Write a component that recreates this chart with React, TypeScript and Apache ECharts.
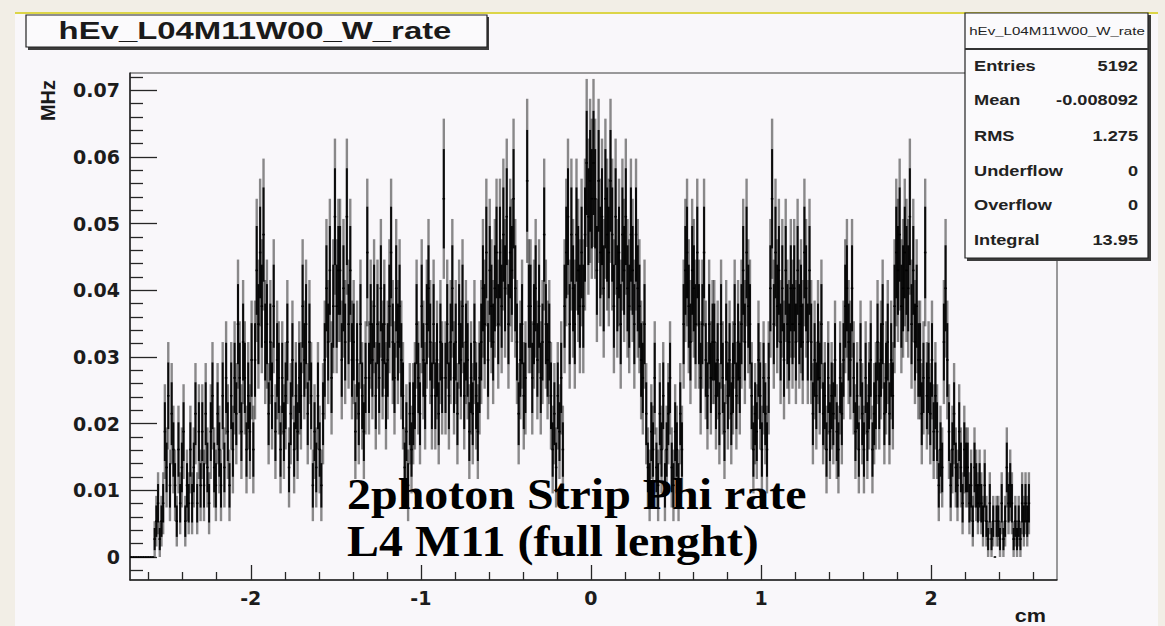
import React, { useEffect, useRef } from "react";
import * as echarts from "echarts";

// ---------- data ----------
const HIST_NAME = "hEv_L04M11W00_W_rate";
const X_MIN = -2.71;
const X_MAX = 2.74;
const Y_MIN = -0.00345;
const Y_MAX = 0.0726;
const BIN_START = -2.71; // cm, low edge of first bin
const BIN_WIDTH = 0.01; // cm
const ENTRIES = 5192;
const INTEGRAL = 13.95;
const WEIGHT = INTEGRAL / ENTRIES; // MHz per entry

const X_TICKS = [-2, -1, 0, 1, 2];
const X_MINOR_TICKS = [
  -2.6, -2.4, -2.2, -1.8, -1.6, -1.4, -1.2, -0.8, -0.6, -0.4, -0.2,
  0.2, 0.4, 0.6, 0.8, 1.2, 1.4, 1.6, 1.8, 2.2, 2.4, 2.6,
];
const Y_TICKS = [0, 0.01, 0.02, 0.03, 0.04, 0.05, 0.06, 0.07];
const Y_MINOR_TICKS = [
  -0.002, 0.002, 0.004, 0.006, 0.008, 0.012, 0.014, 0.016, 0.018,
  0.022, 0.024, 0.026, 0.028, 0.032, 0.034, 0.036, 0.038,
  0.042, 0.044, 0.046, 0.048, 0.052, 0.054, 0.056, 0.058,
  0.062, 0.064, 0.066, 0.068, 0.072,
];

// entries per 0.01 cm bin (left to right)
const counts = [
  0, 0, 0, 0, 0, 0, 0, 0, 0, 0, 0, 0, 0, 0,
  1, 2, 3, 1, 2,
  3, 7, 5, 9, 4, 8, 6, 4,
  2, 6, 3, 5, 7, 2, 4, 3,
  6, 3, 5, 8, 3, 7, 4,
  7, 4, 8, 5, 3, 7, 9, 5, 4, 8, 6, 4,
  9, 5, 10, 7, 4, 9, 6, 10,
  8, 13, 10, 7, 12,
  10, 6, 9, 7, 11, 6,
  11, 16, 13, 17, 14, 18, 12,
  13, 8, 12, 9, 14, 7, 11, 10,
  6, 10, 7, 9, 12, 5, 8, 11, 6, 9, 7, 10,
  9, 14, 11, 13, 8, 12,
  9, 4, 7, 5, 9, 6, 4, 8,
  11, 15, 12, 16, 10, 14,
  19, 14, 16,
  16, 11, 15, 12, 19, 13, 16, 11,
  12, 7, 11, 8, 13, 9, 7, 10,
  17, 10, 13, 11,
  14, 9, 13, 10, 15, 11, 13, 9,
  11, 14, 17, 12, 10, 15, 12, 14, 11,
  9, 5, 7, 4, 8, 6, 8,
  9, 13, 10, 8, 14, 11, 9, 13, 15, 12, 9,
  13, 9, 11, 8, 12, 10, 20, 10,
  13, 9, 12, 15, 10, 12, 8, 13, 11, 14, 9, 12,
  11, 7, 10, 8, 12, 9, 7, 10,
  12, 15, 13, 17, 11, 16, 14, 12, 15, 17, 13,
  17, 14, 18, 15, 19, 13, 17, 16, 20, 15,
  12, 8, 11, 13, 9, 10,
  21, 14,
  14, 10, 13, 15, 11, 14, 10, 12, 18, 13, 11, 12,
  9, 6, 8, 5, 9, 7, 10, 6,
  14, 17, 19, 13, 18, 15, 13, 18, 16, 14,
  17, 14,
  18, 22, 19, 21, 20, 22,
  20, 16, 21, 17, 19, 15, 20, 18, 17, 21,
  18, 14, 19, 15, 17, 13, 18, 16, 19, 15, 14, 18, 16, 13, 18, 15,
  14, 11, 10, 13,
  8, 5, 4, 7, 6, 10, 5, 4, 8, 6, 9, 4, 6, 8, 10, 5, 4, 7, 6, 4, 8, 6,
  13, 16, 17, 14, 12, 16, 15, 13, 17, 13,
  10, 13, 17, 11, 9, 13, 10, 12,
  12, 9, 11, 8, 13, 10, 7, 12, 9, 11, 8, 10, 13, 9, 12, 10,
  13, 16, 12, 17, 14, 13,
  9, 6, 8, 7, 11, 9, 6, 10, 8, 6, 10,
  15, 20, 13, 17, 14, 16,
  12, 15, 11, 16, 13, 12, 15, 13,
  15, 12, 16, 13, 14, 12, 17, 15, 12, 16,
  12, 8, 11, 9, 12, 10, 13, 8,
  9, 6, 10, 7, 9, 8, 11, 7, 6, 10, 8,
  11, 14, 15, 12, 11, 15,
  10, 7, 9, 6, 11, 8, 6, 10, 7, 9, 11, 6, 8, 9,
  12, 9, 11, 13, 8, 10, 12, 8, 11, 9,
  14, 17, 16, 18, 14, 15, 17, 16,
  15, 19, 13, 16, 12, 14, 11,
  11, 8, 10, 17, 9,
  10, 8, 11, 7, 9,
  7, 4, 6, 5,
  12, 15, 11,
  7, 4, 6, 8, 5,
  4, 7, 5, 3, 6, 5,
  5, 3, 4, 2, 5, 4, 3, 4,
  3, 2, 4,
  2, 1, 3, 1, 2, 0, 2, 2, 1, 3, 1, 2,
  5, 3, 4, 3,
  1, 2, 1, 2, 1,
  3, 2, 3, 2, 3,
];

const STAT_LABELS = ["Entries", "Mean", "RMS", "Underflow", "Overflow", "Integral"];
const STAT_VALUES = [String(ENTRIES), "-0.008092", "1.275", "0", "0", String(INTEGRAL)];
const ANNOTATION = ["2photon Strip Phi rate", "L4 M11 (full lenght)"];
const X_NAME = "cm";
const Y_NAME = "MHz";

// ---------- chart ----------
export default function App() {
  const ref = useRef<HTMLDivElement>(null);

  useEffect(() => {
    if (!ref.current) return;
    const chart = echarts.init(ref.current, undefined, { renderer: "svg" });

    const data = counts.map((n, i) => [
      BIN_START + (i + 0.5) * BIN_WIDTH,
      n * WEIGHT,
      Math.sqrt(n) * WEIGHT,
    ]);

    const tickColor = "#262626";
    const labelStyle = {
      fontFamily: "DejaVu Sans",
      fontWeight: "bold" as const,
      fontSize: 19,
      color: "#1c1c1c",
    };

    const statRowsY = [66, 100, 136, 171, 205, 240];
    const statText: any[] = [];
    STAT_LABELS.forEach((lab, i) => {
      statText.push({
        type: "text",
        x: 974,
        y: statRowsY[i],
        scaleX: 1.3,
        z: 62,
        style: {
          text: lab,
          font: 'bold 14px "Liberation Sans"',
          fill: "#222",
          align: "left",
          verticalAlign: "middle",
        },
      });
      statText.push({
        type: "text",
        x: 1138,
        y: statRowsY[i],
        scaleX: 1.3,
        z: 62,
        style: {
          text: STAT_VALUES[i],
          font: 'bold 14px "Liberation Sans"',
          fill: "#222",
          align: "right",
          verticalAlign: "middle",
        },
      });
    });

    const option: any = {
      animation: false,
      backgroundColor: "#f2eee6",
      grid: {
        left: 130,
        right: 108,
        top: 73,
        bottom: 46,
        show: true,
        borderColor: "#3a3a3a",
        borderWidth: 1,
        backgroundColor: "transparent",
      },
      xAxis: [
        {
          type: "value",
          min: X_MIN,
          max: X_MAX,
          position: "bottom",
          axisLine: { show: true, onZero: false, lineStyle: { color: tickColor, width: 1.5 } },
          axisTick: {
            show: true,
            inside: true,
            length: 15,
            customValues: X_TICKS,
            lineStyle: { color: tickColor, width: 1.3 },
          },
          axisLabel: {
            show: true,
            customValues: X_TICKS,
            margin: 8,
            ...labelStyle,
            formatter: (v: number) => String(v),
          },
          splitLine: { show: false },
        },
        {
          type: "value",
          min: X_MIN,
          max: X_MAX,
          position: "bottom",
          axisLine: { show: false, onZero: false },
          axisTick: {
            show: true,
            inside: true,
            length: 8,
            customValues: X_MINOR_TICKS,
            lineStyle: { color: tickColor, width: 1.3 },
          },
          axisLabel: { show: false },
          splitLine: { show: false },
        },
      ],
      yAxis: [
        {
          type: "value",
          min: Y_MIN,
          max: Y_MAX,
          position: "left",
          axisLine: { show: true, onZero: false, lineStyle: { color: tickColor, width: 1.5 } },
          axisTick: {
            show: true,
            inside: true,
            length: 27,
            customValues: Y_TICKS,
            lineStyle: { color: tickColor, width: 1.3 },
          },
          axisLabel: {
            show: true,
            customValues: Y_TICKS,
            margin: 10,
            ...labelStyle,
            formatter: (v: number) => (v === 0 ? "0" : v.toFixed(2)),
          },
          splitLine: { show: false },
        },
        {
          type: "value",
          min: Y_MIN,
          max: Y_MAX,
          position: "left",
          axisLine: { show: false, onZero: false },
          axisTick: {
            show: true,
            inside: true,
            length: 13,
            customValues: Y_MINOR_TICKS,
            lineStyle: { color: tickColor, width: 1.3 },
          },
          axisLabel: { show: false },
          splitLine: { show: false },
        },
      ],
      series: [
        {
          type: "custom",
          name: HIST_NAME,
          xAxisIndex: 0,
          yAxisIndex: 0,
          clip: true,
          silent: true,
          encode: { x: 0, y: 1 },
          data,
          renderItem: (params: any, api: any) => {
            const xc = api.value(0);
            const v = api.value(1);
            const e = api.value(2);
            const c = api.coord([xc, v]);
            const half = api.size([BIN_WIDTH, 0])[0] / 2;
            const children: any[] = [];
            if (e > 0) {
              const t = api.coord([xc, v + e]);
              const b = api.coord([xc, v - e]);
              // full error bar (soft)
              children.push({
                type: "line",
                shape: { x1: c[0], y1: t[1], x2: c[0], y2: b[1] },
                style: { stroke: "rgba(0,0,0,0.45)", lineWidth: 2.4 },
              });
              // dense overlap near the bin value (dark)
              const ti = api.coord([xc, v + 0.62 * e]);
              const bi = api.coord([xc, v - 0.62 * e]);
              children.push({
                type: "line",
                shape: { x1: c[0], y1: ti[1], x2: c[0], y2: bi[1] },
                style: { stroke: "rgba(0,0,0,0.92)", lineWidth: 2.0 },
              });
            }
            children.push({
              type: "line",
              shape: { x1: c[0] - half - 0.4, y1: c[1], x2: c[0] + half + 0.4, y2: c[1] },
              style: { stroke: "#000", lineWidth: 1.6 },
            });
            return { type: "group", children };
          },
        },
      ],
      graphic: [
        {
          type: "rect",
          z: -10,
          silent: true,
          shape: { x: 15, y: 12, width: 1143, height: 614 },
          style: { fill: "#f9f7fa" },
        },
        {
          type: "line",
          z: -9,
          silent: true,
          shape: { x1: 15, y1: 13, x2: 1158, y2: 13 },
          style: { stroke: "#dcd548", lineWidth: 2 },
        },
        // title box
        {
          type: "rect",
          z: 60,
          shape: { x: 28, y: 17, width: 461, height: 33 },
          style: { fill: "#3c3c3c" },
        },
        {
          type: "rect",
          z: 61,
          shape: { x: 26, y: 15, width: 461, height: 32 },
          style: { fill: "#fbfafc", stroke: "#222", lineWidth: 1.2 },
        },
        {
          type: "text",
          z: 62,
          x: 255,
          y: 31,
          scaleX: 1.43,
          style: {
            text: HIST_NAME,
            font: 'bold 23px "Liberation Sans"',
            fill: "#1a1a1a",
            align: "center",
            verticalAlign: "middle",
          },
        },
        // stats box
        {
          type: "rect",
          z: 60,
          shape: { x: 967, y: 15, width: 184, height: 246 },
          style: { fill: "#3c3c3c" },
        },
        {
          type: "rect",
          z: 61,
          shape: { x: 965, y: 13, width: 183, height: 245 },
          style: { fill: "#fbfafc", stroke: "#222", lineWidth: 1.2 },
        },
        {
          type: "line",
          z: 62,
          shape: { x1: 965, y1: 49, x2: 1148, y2: 49 },
          style: { stroke: "#333", lineWidth: 2 },
        },
        {
          type: "text",
          z: 62,
          x: 1057,
          y: 31,
          scaleX: 1.37,
          style: {
            text: HIST_NAME,
            font: '11px "Liberation Sans"',
            fill: "#222",
            align: "center",
            verticalAlign: "middle",
          },
        },
        ...statText,
        // axis titles
        {
          type: "text",
          z: 62,
          x: 48,
          y: 80,
          rotation: Math.PI / 2,
          style: {
            text: Y_NAME,
            font: 'bold 20px "Liberation Sans"',
            fill: "#1a1a1a",
            align: "right",
            verticalAlign: "middle",
          },
        },
        {
          type: "text",
          z: 62,
          x: 1046,
          y: 616,
          scaleX: 1.2,
          style: {
            text: X_NAME,
            font: 'bold 18px "Liberation Sans"',
            fill: "#1a1a1a",
            align: "right",
            verticalAlign: "middle",
          },
        },
        // annotation
        {
          type: "text",
          z: 70,
          x: 347,
          y: 494,
          scaleX: 1.09,
          style: {
            text: ANNOTATION[0],
            font: 'bold 44px "Liberation Serif"',
            fill: "#000",
            align: "left",
            verticalAlign: "middle",
          },
        },
        {
          type: "text",
          z: 70,
          x: 347,
          y: 541,
          scaleX: 1.09,
          style: {
            text: ANNOTATION[1],
            font: 'bold 44px "Liberation Serif"',
            fill: "#000",
            align: "left",
            verticalAlign: "middle",
          },
        },
      ],
    };

    chart.setOption(option);
    return () => chart.dispose();
  }, []);

  return (
    <div
      ref={ref}
      style={{ position: "absolute", left: 0, top: 0, width: 1165, height: 626 }}
    />
  );
}
